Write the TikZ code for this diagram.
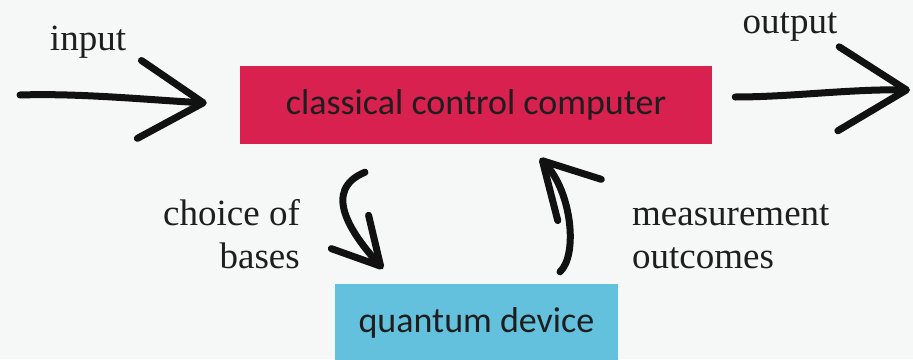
\documentclass[tikz,border=0pt]{standalone}
\usepackage{fontspec}
\setmainfont{Liberation Serif}
\newfontfamily\boxfont{Carlito}
\usetikzlibrary{arrows.meta}
\definecolor{bgc}{HTML}{F6F7F7}
\definecolor{redbox}{HTML}{D8214F}
\definecolor{bluebox}{HTML}{64C1DE}
\definecolor{inktext}{HTML}{1E1E1E}
\definecolor{ink}{HTML}{111111}
\tikzset{
  box/.style={rectangle, inner sep=0pt, text=inktext, font=\boxfont\fontsize{36}{43}\selectfont},
  lbl/.style={inner sep=0pt, text=inktext, font=\fontsize{37}{43}\selectfont},
  hand/.style={draw=ink, line width=7pt, line cap=round, line join=round},
}
\begin{document}
\begin{tikzpicture}[x=1pt,y=-1pt]
\fill[bgc] (0,0) rectangle (913,359);
\useasboundingbox (0,0) rectangle (913,359);
\clip (0,0) rectangle (913,359);
\node[box, fill=redbox, minimum width=472pt, minimum height=78pt] (ccc) at (476,105) {classical control computer};
\node[box, fill=bluebox, minimum width=283pt, minimum height=78pt] (qd) at (476.5,323) {quantum device};
\node[lbl, anchor=base] (inlbl) at (88,50) {input};
\node[lbl, anchor=base] (outlbl) at (790,33) {output};
\node[lbl, anchor=base east, align=right] (choice) at (300,268) {choice of\\bases};
\node[lbl, anchor=base west, align=left] (meas) at (632,268) {measurement\\outcomes};
\coordinate (inStart) at (20,95);
\coordinate (outEnd) at (910,90);
% input arrow
\draw[hand, -{Straight Barb[round, length=64pt, width=78pt]}] (inStart) .. controls (80,93) and (150,100) .. ([shift={(-33,-2)}]ccc.west);
% output arrow
\draw[hand, -{Straight Barb[round, length=68pt, width=84pt]}] ([shift={(23,-8)}]ccc.east) .. controls (790,97) and (850,89) .. (outEnd);
% choice of bases
\draw[hand, -{Straight Barb[round, length=46pt, width=50pt]}] ([shift={(-111,28)}]ccc.south) .. controls (322,190) and (350,232) .. ([shift={(-93.5,-15)}]qd.north);
% measurement outcomes
\draw[hand, -{Straight Barb[round, length=54pt, width=60pt]}] ([shift={(83.5,-12)}]qd.north) .. controls (578,255) and (572,192) .. ([shift={(64,14)}]ccc.south);
\end{tikzpicture}
\end{document}
